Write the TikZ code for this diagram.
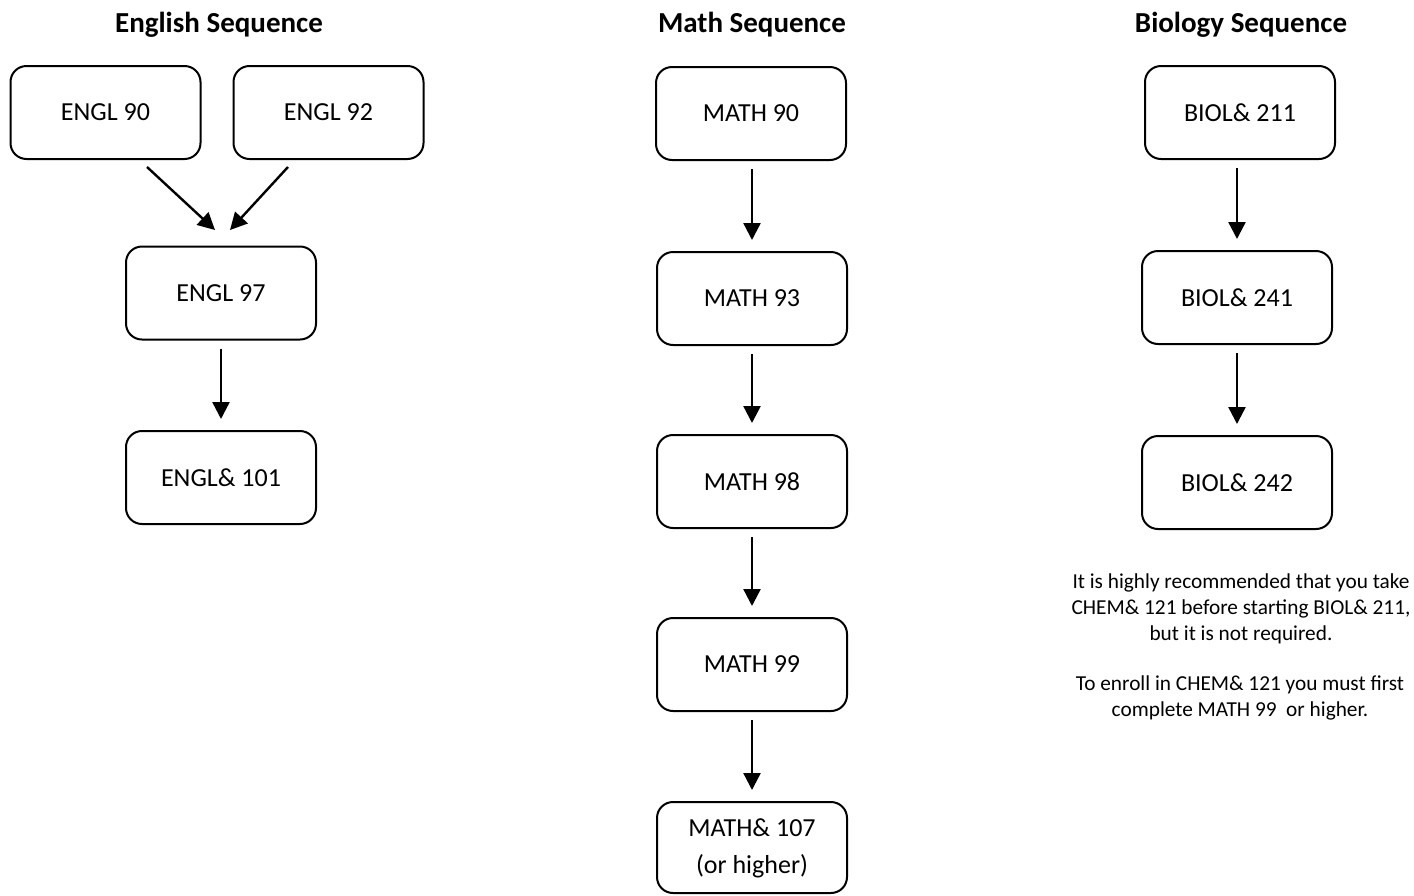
\documentclass[tikz,border=0pt]{standalone}
\usepackage{fontspec}
\setmainfont{Carlito}
\usetikzlibrary{arrows.meta}
\begin{document}
\begin{tikzpicture}[x=1pt,y=-1pt,
  course/.style={draw, line width=2pt, rounded corners=16pt, minimum width=190pt, minimum height=93pt, font=\fontsize{26}{31}\selectfont, align=center, inner sep=0pt},
  title/.style={font=\fontsize{29}{34}\selectfont\bfseries},
  note/.style={font=\fontsize{21.3}{26}\selectfont, align=center},
  arr/.style={line width=2.4pt, -{Triangle[length=17pt,width=17pt]}}]
\useasboundingbox (0,0) rectangle (1414,895);
% titles
\node[title] (tE) at (219,25) {English Sequence};
\node[title] (tM) at (752,25) {Math Sequence};
\node[title] (tB) at (1241,25) {Biology Sequence};
% English
\node[course] (e90) at (105.5,112.5) {\raisebox{-1.5pt}{ENGL 90}};
\node[course] (e92) at (328.5,112.5) {\raisebox{-1.5pt}{ENGL 92}};
\node[course] (e97) at (221,293) {\raisebox{-1.5pt}{ENGL 97}};
\node[course] (e101) at (221,477.5) {\raisebox{-1.5pt}{ENGL\& 101}};
\coordinate (a1s) at (147,167); \coordinate (a1e) at (215,230);
\coordinate (a2s) at (288,167); \coordinate (a2e) at (230,230);
\draw[arr] (a1s) -- (a1e);
\draw[arr] (a2s) -- (a2e);
\draw[arr] ([yshift=-8pt]e97.south) -- ([yshift=11pt]e101.north);
% Math
\node[course] (m90) at (751,113.5) {\raisebox{-1.5pt}{MATH 90}};
\node[course] (m93) at (752,298.5) {\raisebox{-1.5pt}{MATH 93}};
\node[course] (m98) at (752,481.5) {\raisebox{-1.5pt}{MATH 98}};
\node[course] (m99) at (752,664.5) {\raisebox{-1.5pt}{MATH 99}};
\node[course, minimum height=91pt] (m107) at (752,847.5) {\raisebox{-5pt}{\fontsize{26}{37}\selectfont\begin{tabular}{@{}c@{}}MATH\& 107\\(or higher)\end{tabular}}};
\draw[arr] ([yshift=-8pt]m93.north |- m90.south) -- ([yshift=11pt]m93.north);
\draw[arr] ([yshift=-8pt]m93.south) -- ([yshift=11pt]m98.north);
\draw[arr] ([yshift=-8pt]m98.south) -- ([yshift=11pt]m99.north);
\draw[arr] ([yshift=-8pt]m99.south) -- ([yshift=11pt]m107.north);
% Biology
\node[course] (b211) at (1240,112.5) {\raisebox{-1.5pt}{BIOL\& 211}};
\node[course] (b241) at (1237,297.5) {\raisebox{-1.5pt}{BIOL\& 241}};
\node[course] (b242) at (1237,482.5) {\raisebox{-1.5pt}{BIOL\& 242}};
\draw[arr] ([yshift=-8pt]b241.north |- b211.south) -- ([yshift=11pt]b241.north);
\draw[arr] ([yshift=-8pt]b241.south) -- ([yshift=11pt]b242.north);
% note
\node[note] (n1) at (1241,609) {It is highly recommended that you take\\CHEM\& 121 before starting BIOL\& 211,\\but it is not required.};
\node[note] (n2) at (1240,698) {To enroll in CHEM\& 121 you must first\\complete MATH 99\ \ or higher.};
\end{tikzpicture}
\end{document}
